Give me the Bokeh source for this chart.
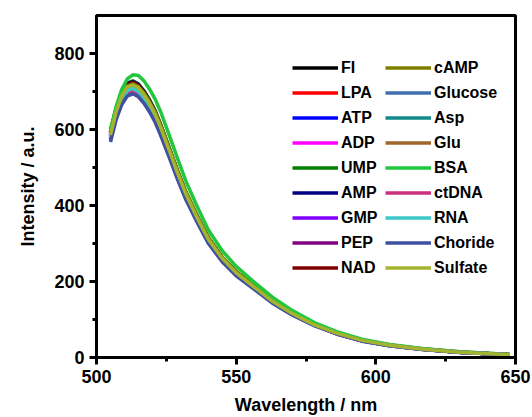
from bokeh.plotting import figure
from bokeh.models import Legend, LegendItem, Range1d, FixedTicker
from bokeh.embed import file_html
from bokeh.resources import INLINE

wavelength = [505, 507, 509, 511, 513, 515, 517, 519, 521, 523, 526, 529, 532, 536,
              540, 545, 550, 556, 563, 570, 578, 586, 595, 605, 617, 630, 648]

FI      = [590, 650, 692, 716, 722, 714, 696, 672, 644, 608, 548, 488, 432, 370, 313, 262, 224, 189, 149, 117, 87, 64, 45, 32, 22, 14, 7]
LPA     = [587, 646, 688, 712, 718, 710, 692, 668, 640, 605, 545, 485, 430, 368, 311, 261, 223, 188, 148, 116, 87, 64, 45, 32, 22, 14, 7]
ATP     = [582, 641, 682, 706, 712, 704, 686, 663, 635, 600, 540, 481, 426, 365, 309, 258, 221, 186, 147, 115, 86, 63, 44, 32, 22, 14, 7]
ADP     = [576, 635, 676, 699, 705, 697, 680, 656, 629, 594, 535, 477, 422, 361, 306, 256, 219, 185, 146, 114, 85, 62, 44, 31, 21, 14, 7]
UMP     = [595, 655, 698, 722, 728, 720, 702, 678, 649, 613, 553, 492, 436, 373, 316, 264, 226, 191, 150, 118, 88, 65, 45, 32, 22, 14, 7]
AMP     = [593, 654, 696, 720, 726, 718, 700, 676, 648, 611, 551, 491, 434, 372, 315, 263, 225, 190, 150, 118, 87, 64, 45, 32, 22, 14, 7]
GMP     = [584, 644, 685, 709, 715, 707, 689, 665, 638, 602, 543, 483, 428, 366, 310, 259, 222, 187, 148, 116, 86, 63, 45, 32, 22, 14, 7]
PEP     = [588, 648, 690, 714, 720, 712, 694, 670, 642, 606, 546, 487, 431, 369, 312, 261, 223, 188, 149, 117, 87, 64, 45, 32, 22, 14, 7]
NAD     = [592, 652, 694, 718, 724, 716, 698, 674, 646, 610, 550, 489, 433, 371, 314, 263, 225, 190, 149, 117, 87, 64, 45, 32, 22, 14, 7]
cAMP    = [600, 655, 693, 714, 720, 713, 696, 673, 646, 611, 552, 492, 436, 373, 316, 264, 226, 191, 150, 118, 88, 65, 46, 33, 23, 15, 8]
Glucose = [572, 630, 671, 694, 700, 692, 675, 652, 624, 589, 531, 473, 419, 359, 303, 254, 217, 183, 144, 113, 84, 62, 44, 31, 21, 14, 7]
Asp     = [580, 639, 680, 704, 710, 702, 684, 661, 633, 598, 539, 480, 425, 364, 308, 258, 220, 186, 147, 115, 86, 63, 44, 31, 22, 14, 7]
Glu     = [585, 645, 686, 710, 716, 708, 690, 666, 639, 603, 544, 484, 428, 367, 310, 260, 222, 187, 148, 116, 86, 63, 45, 32, 22, 14, 7]
BSA     = [595, 660, 705, 733, 744, 742, 728, 706, 680, 646, 586, 524, 464, 398, 336, 281, 240, 201, 159, 124, 92, 68, 48, 34, 23, 15, 8]
ctDNA   = [574, 633, 674, 697, 703, 695, 678, 654, 627, 592, 534, 475, 421, 360, 305, 255, 218, 184, 145, 114, 85, 62, 44, 31, 21, 14, 7]
RNA     = [579, 637, 679, 702, 708, 700, 683, 659, 632, 596, 537, 479, 424, 363, 307, 257, 220, 185, 146, 115, 85, 63, 44, 31, 22, 14, 7]
Choride = [567, 625, 665, 688, 694, 686, 669, 646, 619, 584, 527, 469, 415, 356, 301, 252, 215, 182, 143, 112, 84, 62, 43, 31, 21, 13, 7]
Sulfate = [586, 646, 688, 712, 717, 710, 692, 668, 640, 605, 546, 486, 430, 368, 311, 261, 223, 188, 148, 116, 86, 64, 45, 32, 22, 14, 7]

labels_col1 = ["FI", "LPA", "ATP", "ADP", "UMP", "AMP", "GMP", "PEP", "NAD"]
labels_col2 = ["cAMP", "Glucose", "Asp", "Glu", "BSA", "ctDNA", "RNA", "Choride", "Sulfate"]
series = {"FI": FI, "LPA": LPA, "ATP": ATP, "ADP": ADP, "UMP": UMP, "AMP": AMP,
          "GMP": GMP, "PEP": PEP, "NAD": NAD, "cAMP": cAMP, "Glucose": Glucose,
          "Asp": Asp, "Glu": Glu, "BSA": BSA, "ctDNA": ctDNA, "RNA": RNA,
          "Choride": Choride, "Sulfate": Sulfate}
colors = {"FI": "#000000", "LPA": "#FF0000", "ATP": "#0000FF", "ADP": "#FF00FF",
          "UMP": "#008000", "AMP": "#000080", "GMP": "#8000FF", "PEP": "#800080",
          "NAD": "#800000", "cAMP": "#808000", "Glucose": "#3F6FAF", "Asp": "#138A8A",
          "Glu": "#A0662A", "BSA": "#22C83C", "ctDNA": "#C8327E", "RNA": "#3CC8C8",
          "Choride": "#4050A0", "Sulfate": "#A3B52F"}

x_ticks = [500, 550, 600, 650]
y_ticks = [0, 200, 400, 600, 800]

FONT = "Liberation Sans"

p = figure(width=532, height=417, output_backend="svg", toolbar_location=None,
           x_range=Range1d(500, 650), y_range=Range1d(0, 900),
           min_border_left=96, min_border_right=17, min_border_top=15, min_border_bottom=60)
p.background_fill_color = "white"
p.border_fill_color = "white"
p.outline_line_color = "black"
p.outline_line_width = 3
p.xgrid.visible = False
p.ygrid.visible = False

p.xaxis.ticker = FixedTicker(ticks=x_ticks, minor_ticks=[525, 575, 625])
p.yaxis.ticker = FixedTicker(ticks=y_ticks, minor_ticks=[100, 300, 500, 700])
for ax in (p.xaxis[0], p.yaxis[0]):
    ax.axis_line_width = 3
    ax.axis_line_color = "black"
    ax.major_tick_line_width = 3
    ax.minor_tick_line_width = 3
    ax.major_tick_out = 7
    ax.major_tick_in = 0
    ax.minor_tick_out = 4
    ax.minor_tick_in = 0
    ax.major_label_text_font = FONT
    ax.major_label_text_font_style = "bold"
    ax.major_label_text_font_size = "18px"
    ax.major_label_text_color = "black"
    ax.axis_label_text_font = FONT
    ax.axis_label_text_font_style = "bold"
    ax.axis_label_text_font_size = "18px"
    ax.axis_label_text_color = "black"
    ax.major_label_standoff = 5
p.xaxis.axis_label = "Wavelength / nm"
p.yaxis.axis_label = "Intensity / a.u."
p.xaxis.axis_label_standoff = 9
p.yaxis.axis_label_standoff = 13

renderers = {}
for name in labels_col1 + labels_col2:
    r = p.line(wavelength, series[name], line_color=colors[name], line_width=3.5)
    renderers[name] = r

def make_legend(names, loc):
    lg = Legend(items=[LegendItem(label=n, renderers=[renderers[n]]) for n in names],
                location=loc, orientation="vertical")
    lg.glyph_width = 46
    lg.glyph_height = 25
    lg.label_height = 25
    lg.spacing = 0
    lg.padding = 0
    lg.margin = 0
    lg.label_standoff = 3
    lg.border_line_alpha = 0
    lg.background_fill_alpha = 0
    lg.label_text_font = FONT
    lg.label_text_font_style = "bold"
    lg.label_text_font_size = "16px"
    lg.label_text_color = "black"
    return lg

p.add_layout(make_legend(labels_col1, (196, 77)))
p.add_layout(make_legend(labels_col2, (289, 77)))

open("out.html", "w").write(file_html(p, INLINE))
